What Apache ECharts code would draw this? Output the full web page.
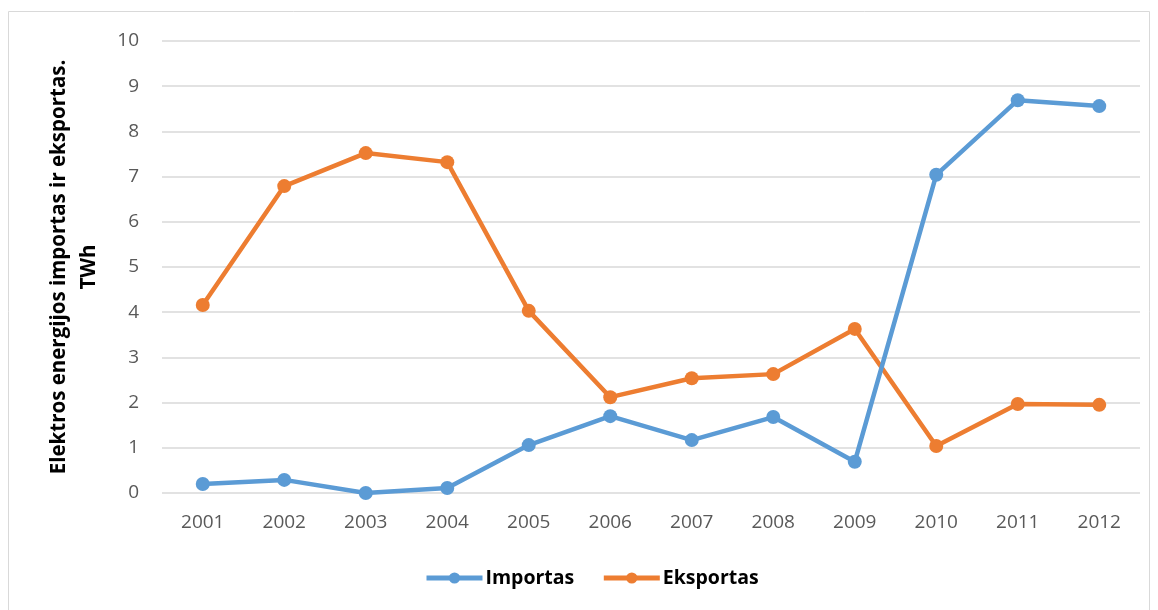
<!DOCTYPE html>
<html><head><meta charset="utf-8">
<script src="https://cdn.jsdelivr.net/npm/echarts@6/dist/echarts.min.js"></script>
<style>html,body{margin:0;padding:0;background:#fff}#c{width:1158px;height:610px}</style>
</head><body><div id="c"></div>
<script>
const years = ['2001','2002','2003','2004','2005','2006','2007','2008','2009','2010','2011','2012'];
const importas = [0.2, 0.29, 0.0, 0.11, 1.06, 1.70, 1.17, 1.68, 0.69, 7.04, 8.69, 8.56];
const eksportas = [4.16, 6.79, 7.52, 7.32, 4.03, 2.12, 2.54, 2.63, 3.63, 1.04, 1.97, 1.95];
const seriesNames = ['Importas', 'Eksportas'];
const yTitle = 'Elektros energijos importas ir eksportas.\nTWh';

const chart = echarts.init(document.getElementById('c'));
const font = '"Open Sans", sans-serif';
function mk(name, data, color){
  return {name, type:'line', data, symbol:'circle', symbolSize:14,
    lineStyle:{width:4.5, color}, itemStyle:{color}, z: name==='Importas'?3:2};
}
chart.setOption({
  animation:false,
  graphic:[{type:'rect', shape:{x:8.5,y:11.5,width:1141,height:620}, style:{fill:'none', stroke:'#d9d9d9', lineWidth:1}}],
  grid:{left:162, right:18, top:41, bottom:117},
  legend:{bottom:17, left:419, itemWidth:56, itemHeight:14, itemGap:27,
    lineStyle:{width:5},
    textStyle:{fontFamily:font, fontWeight:'bold', fontSize:19.5, color:'#000', padding:[0,0,0,-2]},
    data: seriesNames},
  xAxis:{type:'category', data:years, boundaryGap:true,
    axisLine:{show:false}, axisTick:{show:false},
    axisLabel:{fontFamily:font, fontSize:19, color:'#595959', margin:20}},
  yAxis:{type:'value', min:0, max:10, interval:1,
    name: yTitle, nameLocation:'middle', nameGap:58, nameRotate:90,
    nameTextStyle:{fontFamily:font, fontWeight:'bold', fontSize:20.5, color:'#000', lineHeight:30, align:'center'},
    axisLine:{show:false}, axisTick:{show:false},
    axisLabel:{fontFamily:font, fontSize:19, color:'#595959', margin:23},
    splitLine:{lineStyle:{color:'#d9d9d9', width:1.5}}},
  series:[mk(seriesNames[0], importas, '#5B9BD5'), mk(seriesNames[1], eksportas, '#ED7D31')]
});
</script></body></html>
